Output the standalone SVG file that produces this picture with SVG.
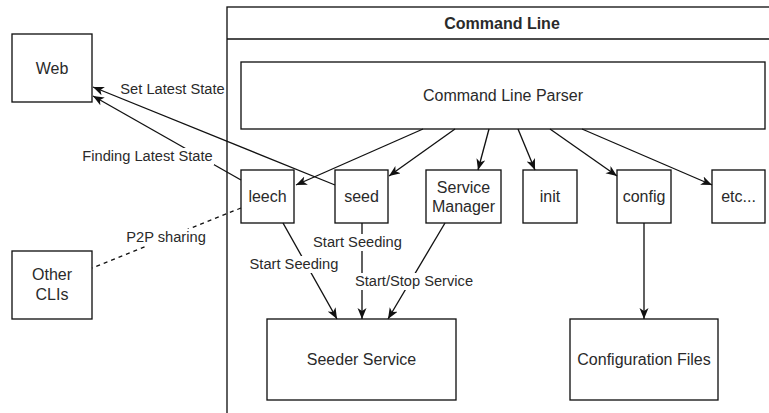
<svg xmlns="http://www.w3.org/2000/svg" width="769" height="413" viewBox="0 0 769 413">
  <style>
    .box { fill: #ffffff; stroke: #111111; stroke-width: 1.33; }
    .edge { fill: none; stroke: #111111; stroke-width: 1.33; }
    .dash { stroke-dasharray: 4 4; }
    .txt { font-family: "Liberation Sans", Arial, Helvetica, sans-serif; font-size: 16px; fill: #2a2a2a; text-anchor: middle; }
    .bold { font-weight: bold; }
    .lbl { font-family: "Liberation Sans", Arial, Helvetica, sans-serif; font-size: 14.67px; fill: #2a2a2a; text-anchor: middle; }
    .lblbg { fill: #ffffff; }
  </style>
  <defs>
    <marker id="arrow" markerUnits="userSpaceOnUse" markerWidth="12" markerHeight="10" refX="11" refY="4.5" orient="auto">
      <path d="M0,0 L11,4.5 L0,9 L3,4.5 Z" fill="#111111"/>
    </marker>
  </defs>

  <rect width="769" height="413" fill="#ffffff"/>

  <!-- Command Line container with header -->
  <g id="command-line">
    <rect class="box" x="227" y="7" width="560" height="420"/>
    <line class="edge" x1="227" y1="39" x2="787" y2="39"/>
    <text class="txt bold" x="502" y="29">Command Line</text>
  </g>

  <g id="web">
    <rect class="box" x="12" y="34" width="80" height="68"/>
    <text class="txt" x="52" y="74">Web</text>
  </g>

  <g id="other-clis">
    <rect class="box" x="12" y="251" width="80" height="68"/>
    <text class="txt" x="52" y="280">Other</text>
    <text class="txt" x="52" y="300">CLIs</text>
  </g>

  <g id="parser">
    <rect class="box" x="241" y="62" width="524" height="67"/>
    <text class="txt" x="503" y="101">Command Line Parser</text>
  </g>

  <g id="leech">
    <rect class="box" x="241" y="170" width="53" height="53"/>
    <text class="txt" x="267.5" y="202">leech</text>
  </g>

  <g id="seed">
    <rect class="box" x="335" y="170" width="53" height="53"/>
    <text class="txt" x="361.5" y="202">seed</text>
  </g>

  <g id="service-manager">
    <rect class="box" x="426" y="170" width="75" height="53"/>
    <text class="txt" x="463.5" y="193">Service</text>
    <text class="txt" x="463.5" y="212">Manager</text>
  </g>

  <g id="init">
    <rect class="box" x="523" y="170" width="54" height="53"/>
    <text class="txt" x="550" y="202">init</text>
  </g>

  <g id="config">
    <rect class="box" x="617" y="170" width="54" height="53"/>
    <text class="txt" x="644" y="202">config</text>
  </g>

  <g id="etc">
    <rect class="box" x="712" y="170" width="53" height="53"/>
    <text class="txt" x="738.5" y="202">etc...</text>
  </g>

  <g id="seeder-service">
    <rect class="box" x="267" y="319" width="189" height="81"/>
    <text class="txt" x="361.5" y="365">Seeder Service</text>
  </g>

  <g id="configuration-files">
    <rect class="box" x="570" y="319" width="148" height="81"/>
    <text class="txt" x="644" y="365">Configuration Files</text>
  </g>

  <!-- connectors -->
  <g id="connectors">
    <!-- parser to sub-commands -->
    <line class="edge" x1="423" y1="129" x2="296" y2="185" marker-end="url(#arrow)"/>
    <line class="edge" x1="455" y1="129" x2="389" y2="176" marker-end="url(#arrow)"/>
    <line class="edge" x1="489" y1="129" x2="478" y2="170" marker-end="url(#arrow)"/>
    <line class="edge" x1="518" y1="129" x2="535" y2="170" marker-end="url(#arrow)"/>
    <line class="edge" x1="550" y1="129" x2="617" y2="176" marker-end="url(#arrow)"/>
    <line class="edge" x1="582" y1="129" x2="712" y2="185" marker-end="url(#arrow)"/>

    <!-- web state exchange -->
    <line class="edge" x1="335" y1="185" x2="93" y2="87" marker-end="url(#arrow)"/>
    <line class="edge" x1="241" y1="180" x2="93" y2="96" marker-end="url(#arrow)"/>

    <!-- peer sharing -->
    <line class="edge dash" x1="241" y1="208" x2="92" y2="268"/>

    <!-- into seeder service -->
    <line class="edge" x1="283" y1="223" x2="337" y2="319" marker-end="url(#arrow)"/>
    <line class="edge" x1="362" y1="223" x2="362" y2="319" marker-end="url(#arrow)"/>
    <line class="edge" x1="445" y1="223" x2="388" y2="319" marker-end="url(#arrow)"/>

    <!-- config to files -->
    <line class="edge" x1="644" y1="223" x2="644" y2="319" marker-end="url(#arrow)"/>

    <!-- labels -->
    <text class="lbl" x="172.5" y="93.5">Set Latest State</text>

    <rect class="lblbg" x="81" y="148" width="133" height="17"/>
    <text class="lbl" x="147.5" y="161">Finding Latest State</text>

    <rect class="lblbg" x="126" y="229" width="80" height="17"/>
    <text class="lbl" x="166" y="242">P2P sharing</text>

    <rect class="lblbg" x="249" y="256" width="90" height="17"/>
    <text class="lbl" x="294" y="269">Start Seeding</text>

    <rect class="lblbg" x="312" y="234" width="91" height="17"/>
    <text class="lbl" x="357.5" y="247">Start Seeding</text>

    <rect class="lblbg" x="354" y="273" width="120" height="17"/>
    <text class="lbl" x="414" y="286">Start/Stop Service</text>
  </g>
</svg>
